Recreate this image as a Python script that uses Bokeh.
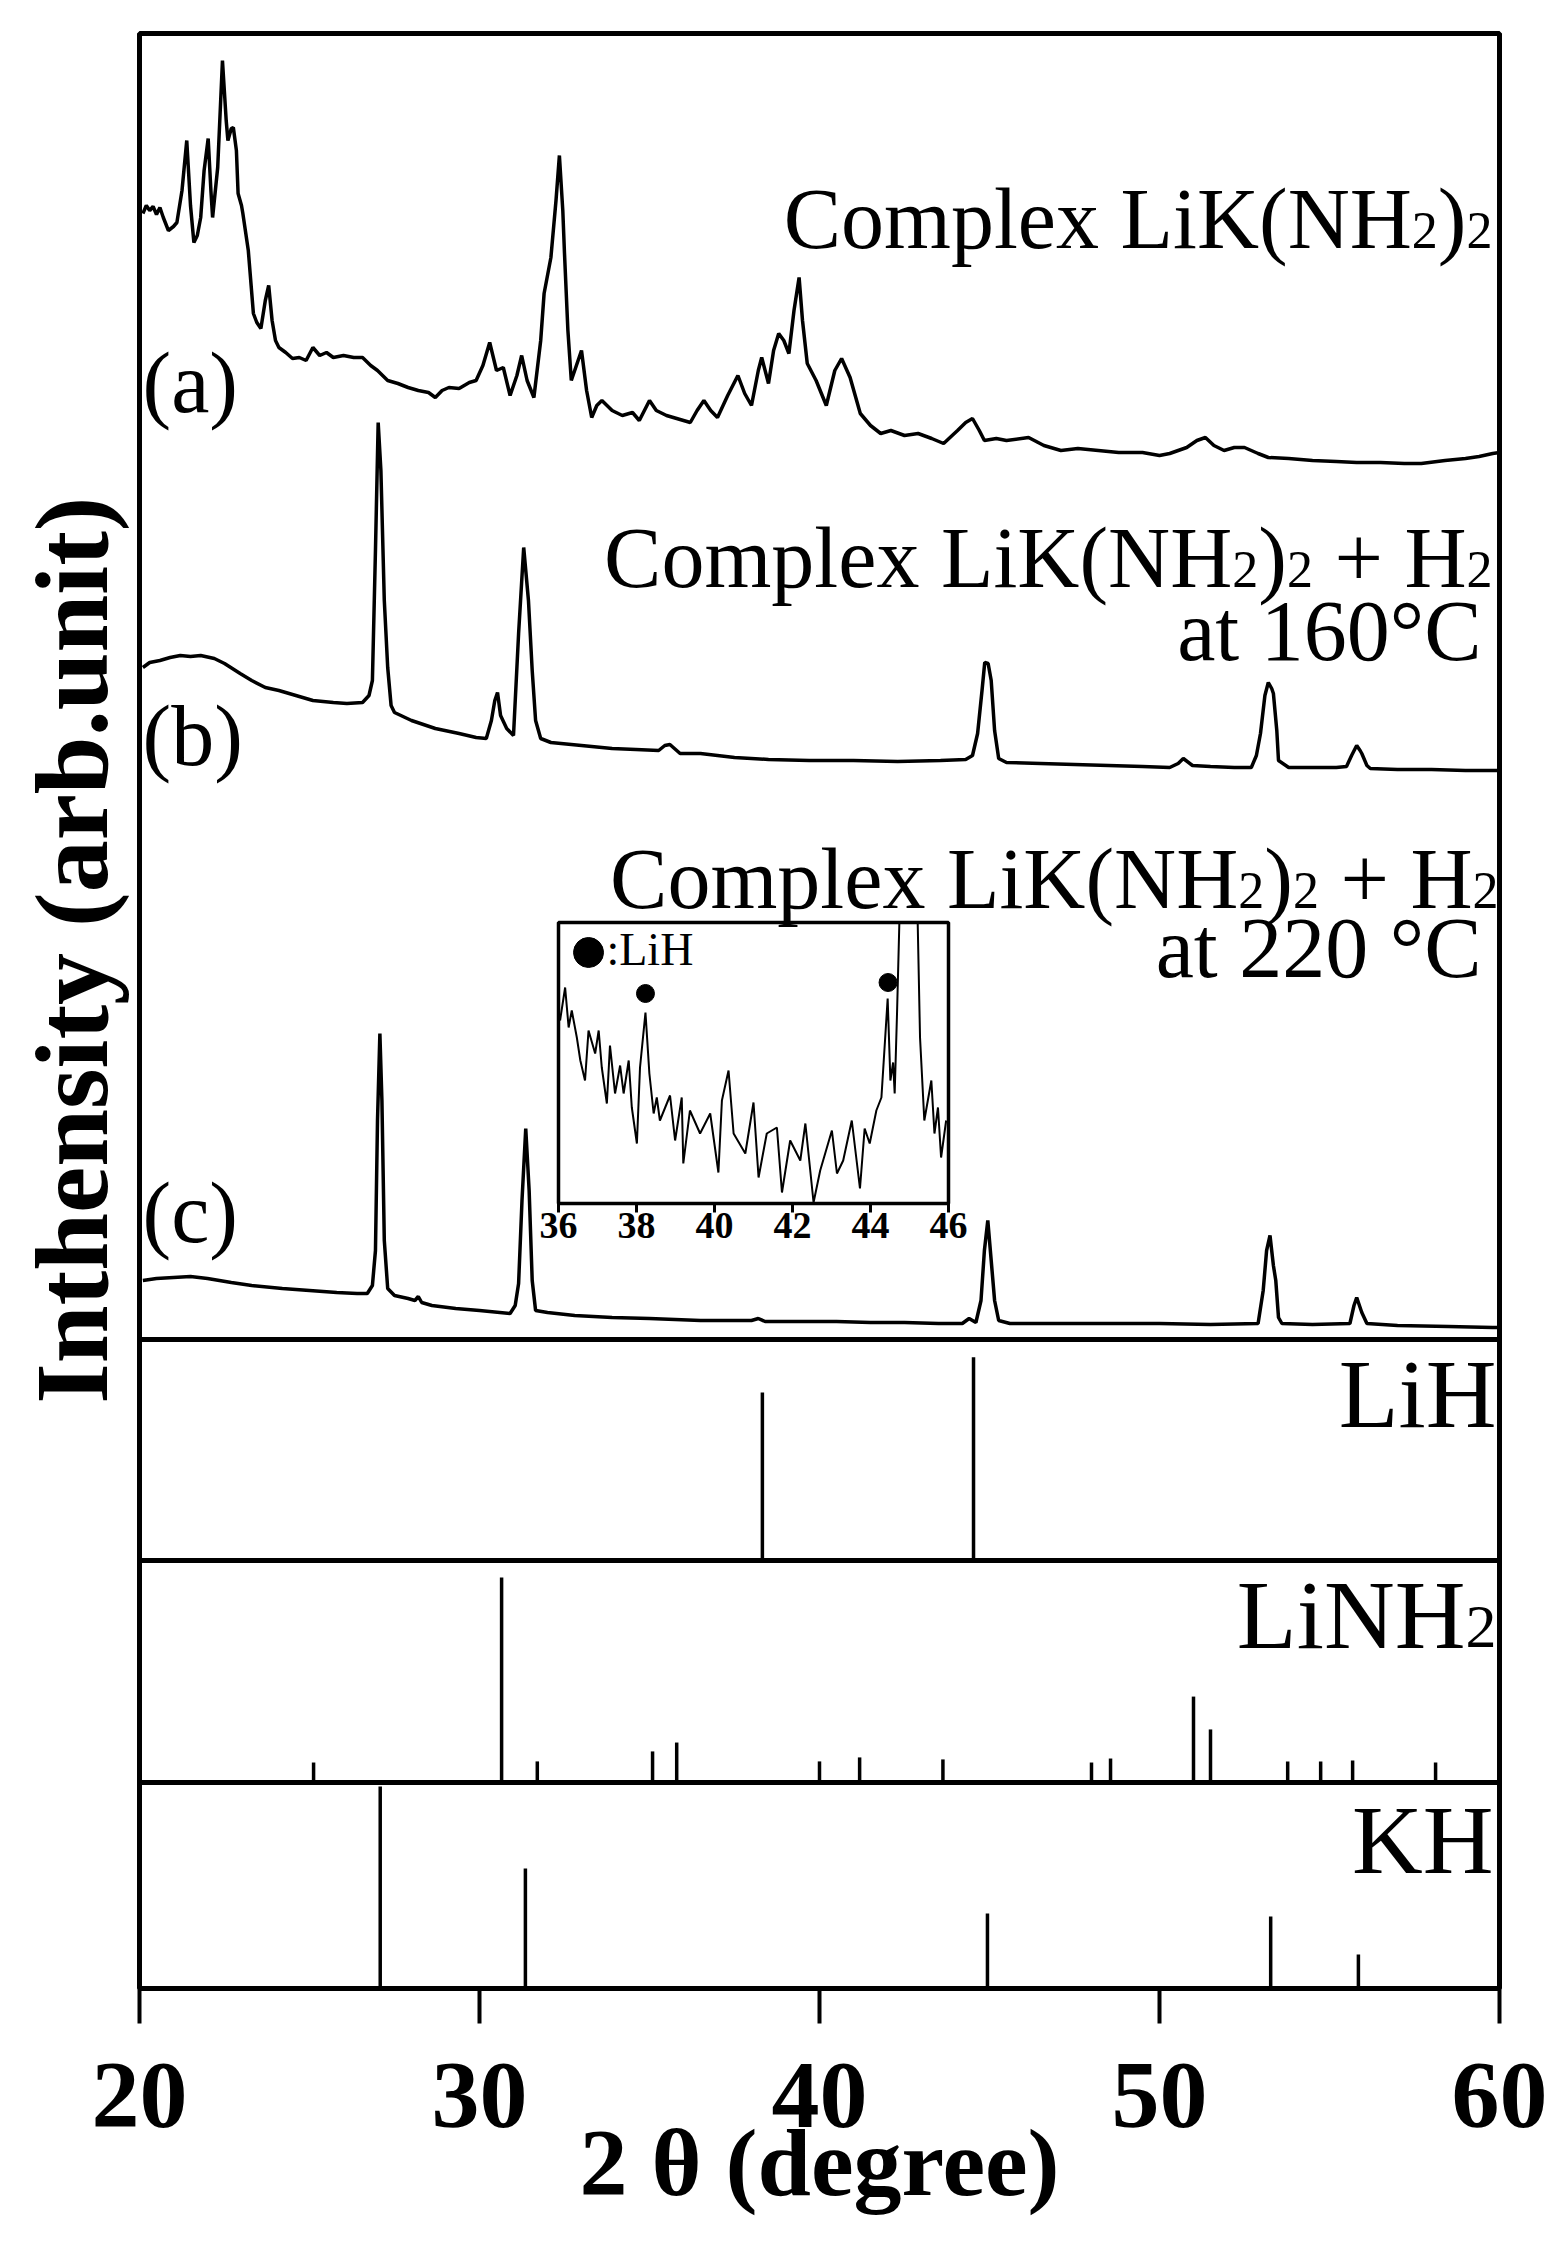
import math
from bokeh.plotting import figure
from bokeh.models import Range1d, FixedTicker, Span, Label, Title
from bokeh.core.properties import value
from bokeh.embed import file_html
from bokeh.resources import INLINE

# ---------------- data (2theta in degree, intensity in arb. units) ----------------
curve_a = [(20.1,1126),(20.2,1134),(20.3,1129),(20.4,1133),(20.5,1125),(20.6,1132),(20.7,1122),(20.85,1109),
           (21.0,1113),(21.1,1117),(21.25,1149),(21.39,1199),(21.5,1134),(21.6,1097),(21.7,1104),(21.8,1122),
           (21.9,1169),(22.02,1201),(22.1,1149),(22.15,1122),(22.3,1172),(22.44,1279),(22.55,1219),(22.6,1199),
           (22.7,1211),(22.76,1212),(22.85,1189),(22.9,1146),(23.0,1134),(23.04,1126),(23.2,1089),(23.35,1026),
           (23.45,1017),(23.57,1011),(23.7,1039),(23.8,1054),(23.9,1019),(24.0,999),(24.1,992),(24.3,987),
           (24.5,981),(24.7,982),(24.9,979),(25.1,992),(25.3,984),(25.5,987),(25.7,982),(26.0,984),(26.3,982),
           (26.56,982),(26.8,974),(27.0,969),(27.3,959),(27.6,956),(27.9,952),(28.2,949),(28.5,947),(28.7,942),
           (28.9,949),(29.1,952),(29.4,951),(29.7,957),(29.9,959),(30.1,974),(30.3,997),(30.5,969),(30.7,972),
           (30.9,944),(31.1,964),(31.24,984),(31.4,959),(31.6,942),(31.8,999),(31.9,1046),(32.1,1082),(32.25,1139),
           (32.35,1184),(32.45,1129),(32.5,1086),(32.6,1009),(32.7,959),(32.85,974),(33.0,989),(33.15,949),
           (33.3,922),(33.45,934),(33.6,939),(33.9,929),(34.2,924),(34.5,927),(34.7,919),(35.0,939),(35.2,929),
           (35.5,924),(35.8,921),(36.2,917),(36.4,929),(36.6,939),(36.8,929),(37.0,922),(37.3,944),(37.6,964),
           (37.8,946),(38.0,934),(38.2,969),(38.3,982),(38.5,956),(38.65,989),(38.8,1006),(38.95,999),(39.1,986),
           (39.25,1029),(39.4,1062),(39.5,1019),(39.64,976),(39.9,959),(40.2,934),(40.45,969),(40.65,981),
           (40.9,962),(41.2,926),(41.5,914),(41.8,906),(42.1,909),(42.5,904),(42.9,906),(43.3,901),(43.65,896),
           (44.06,909),(44.3,917),(44.5,921),(44.7,909),(44.85,899),(45.2,901),(45.5,899),(46.15,902),(46.6,894),
           (47.1,889),(47.6,891),(48.2,889),(48.8,887),(49.5,887),(50.0,884),(50.3,886),(50.8,892),(51.1,899),
           (51.35,902),(51.6,894),(51.9,889),(52.2,892),(52.5,892),(52.9,886),(53.2,882),(53.8,881),(54.5,879),
           (55.2,878),(55.8,877),(56.5,877),(57.2,876),(57.7,876),(58.4,879),(59.0,881),(59.4,883),(59.8,886),
           (60.0,887)]

curve_b = [(20.1,672),(20.3,677),(20.6,679),(20.9,682),(21.2,684),(21.5,683),(21.8,684),(22.2,681),(22.5,676),
           (22.96,666),(23.3,659),(23.7,652),(24.1,649),(24.6,644),(25.1,639),(25.7,637),(26.1,636),(26.56,637),
           (26.75,644),(26.85,659),(26.94,789),(27.02,917),(27.1,869),(27.2,739),(27.3,672),(27.4,634),(27.5,627),
           (28.0,619),(28.7,611),(29.4,606),(29.9,602),(30.2,601),(30.35,619),(30.45,639),(30.53,647),(30.62,624),
           (30.8,611),(31.0,604),(31.15,706),(31.3,792),(31.44,739),(31.55,669),(31.65,619),(31.8,601),(32.1,597),
           (33.0,594),(33.9,591),(34.6,590),(35.27,589),(35.45,594),(35.6,595),(35.9,586),(36.5,586),(37.5,582),
           (38.5,580),(39.7,579),(41.0,579),(42.3,578),(43.56,579),(44.3,580),(44.5,584),(44.65,606),(44.78,649),
           (44.86,677),(44.96,676),(45.05,659),(45.15,609),(45.27,581),(45.5,577),(46.5,576),(47.5,575),(48.5,574),
           (49.5,573),(50.3,572),(50.55,576),(50.7,581),(50.97,574),(51.5,573),(52.2,572),(52.7,572),(52.85,584),
           (52.97,606),(53.1,644),(53.2,657),(53.3,651),(53.35,646),(53.45,609),(53.5,579),(53.8,572),(54.5,572),
           (55.2,572),(55.5,573),(55.65,584),(55.8,594),(55.9,589),(55.95,586),(56.1,574),(56.2,571),(57.0,570),
           (58.0,570),(59.0,569),(59.8,569),(60.0,569)]

curve_c = [(20.1,59),(20.5,61),(21.0,62),(21.5,63),(22.0,61),(22.7,57),(23.3,54),(24.2,51),(25.0,49),(25.8,47),
           (26.4,46),(26.7,46),(26.85,54),(26.94,89),(27.0,219),(27.07,306),(27.13,239),(27.2,99),(27.3,51),
           (27.5,44),(27.9,41),(28.1,39),(28.2,43),(28.3,37),(28.6,34),(29.3,31),(30.0,29),(30.9,26),(31.05,34),
           (31.15,56),(31.25,139),(31.36,211),(31.46,149),(31.55,59),(31.65,29),(32.0,27),(32.8,24),(33.9,22),
           (35.0,21),(36.5,19),(38.0,19),(38.2,21),(38.4,18),(39.5,18),(40.5,18),(41.5,17),(42.5,17),(43.5,16),
           (44.2,16),(44.4,21),(44.6,17),(44.75,39),(44.85,89),(44.95,119),(45.05,79),(45.15,39),(45.27,19),
           (45.6,16),(47.0,16),(48.5,16),(50.0,16),(51.5,15),(52.9,16),(53.05,49),(53.15,89),(53.25,104),
           (53.35,74),(53.42,59),(53.5,22),(53.6,16),(54.5,15),(55.6,16),(55.72,34),(55.8,42),(55.88,34),
           (55.95,27),(56.1,16),(57.0,14),(58.5,13),(59.8,12),(60.0,12)]

inset_c = [(36.04,183),(36.17,216),(36.26,176),(36.34,193),(36.47,166),(36.56,143),(36.68,123),(36.77,173),
           (36.94,150),(37.03,173),(37.11,136),(37.24,100),(37.32,158),(37.45,110),(37.58,138),(37.67,110),
           (37.8,143),(37.88,96),(38.01,60),(38.09,136),(38.23,191),(38.33,130),(38.44,90),(38.52,106),(38.6,83),
           (38.86,108),(38.99,63),(39.16,106),(39.2,40),(39.37,93),(39.63,70),(39.89,90),(40.1,31),(40.19,103),
           (40.36,133),(40.49,70),(40.79,50),(41.0,101),(41.13,26),(41.34,70),(41.6,76),(41.73,11),(41.94,63),
           (42.2,43),(42.33,80),(42.54,1),(42.71,33),(43.01,73),(43.14,30),(43.3,43),(43.52,83),(43.73,15),
           (43.85,75),(43.98,60),(44.15,93),(44.28,106),(44.44,205),(44.51,123),(44.58,141),(44.62,110),
           (44.68,190),(44.74,281),(45.21,281),(45.27,166),(45.38,83),(45.56,123),(45.64,70),(45.73,96),
           (45.81,46),(45.94,83)]

inset_lih_theta = [38.23, 44.45]
inset_lih_int = [210, 221]

lih_theta = [38.32, 44.53]
lih_int = [76, 92]

linh2_theta = [25.12, 30.65, 31.7, 35.09, 35.8, 40.0, 41.18, 43.63, 48.0, 48.56, 51.0, 51.5, 53.77, 54.74, 55.68, 58.12]
linh2_int = [9.0, 92.3, 9.5, 14.0, 18.0, 9.5, 11.3, 10.4, 9.0, 10.8, 38.7, 23.9, 9.5, 9.5, 9.9, 9.0]

kh_theta = [27.08, 31.35, 44.94, 53.27, 55.85]
kh_int = [98.0, 58.3, 36.4, 35.0, 16.5]

x_ticks = [20, 30, 40, 50, 60]
inset_ticks = [36, 38, 40, 42, 44, 46]

# ---------------- layout (page pixels) ----------------
W, H = 1558, 2256
FR_L, FR_R, FR_T, FR_B = 139, 1499, 33, 1988
TOP_B, LIH_B, LINH2_B = 1339, 1560, 1782
SERIF = "Liberation Serif"
KB = 0.3375  # baseline shift of the text box, in em


def px_theta(px):
    return 20 + (px - FR_L) * 40.0 / (FR_R - FR_L)


def panel_range(top_px, bot_px):
    ppu = (bot_px - top_px) / 100.0
    return Range1d(-(FR_B - bot_px) / ppu, 100 + (top_px - FR_T) / ppu)


PPU = {"default": 1.0, "lih": (LIH_B - TOP_B) / 100.0,
       "linh2": (LINH2_B - LIH_B) / 100.0, "kh": (FR_B - LINH2_B) / 100.0}

p = figure(width=W, height=H, output_backend="svg", toolbar_location=None,
           x_range=Range1d(20, 60), y_range=Range1d(-(FR_B - TOP_B), TOP_B - FR_T),
           min_border_left=FR_L, min_border_right=W - FR_R,
           min_border_top=FR_T, min_border_bottom=H - FR_B)
p.extra_y_ranges = {"lih": panel_range(TOP_B, LIH_B),
                    "linh2": panel_range(LIH_B, LINH2_B),
                    "kh": panel_range(LINH2_B, FR_B)}

p.outline_line_color = "black"
p.outline_line_width = 5
p.xgrid.visible = False
p.ygrid.visible = False
p.yaxis.visible = False
p.background_fill_color = "white"
p.border_fill_color = "white"

xa = p.xaxis[0]
xa.ticker = FixedTicker(ticks=x_ticks)
xa.axis_line_width = 5
xa.axis_line_color = "black"
xa.major_tick_out = 35
xa.major_tick_in = 0
xa.major_tick_line_width = 4
xa.major_tick_line_color = "black"
xa.minor_tick_line_color = None
xa.major_label_text_font = SERIF
xa.major_label_text_font_size = "96px"
xa.major_label_text_font_style = "bold"
xa.major_label_text_color = "black"
xa.major_label_standoff = 40
xa.axis_label = "2 θ (degree)"
xa.axis_label_text_font = SERIF
xa.axis_label_text_font_size = "96px"
xa.axis_label_text_font_style = "bold"
xa.axis_label_text_color = "black"
xa.axis_label_standoff = -21

p.add_layout(Title(text="Inthensity (arb.unit)", align="right", offset=463, standoff=22,
                   vertical_align="bottom", text_font=SERIF, text_font_size="104px",
                   text_font_style="bold", text_color="black"), "left")

# curves
for pts in (curve_a, curve_b, curve_c):
    xs, ys = zip(*pts)
    p.line(list(xs), list(ys), line_color="black", line_width=3.5)

# stick patterns
for th, it, rng in ((lih_theta, lih_int, "lih"), (linh2_theta, linh2_int, "linh2"), (kh_theta, kh_int, "kh")):
    p.segment(x0=th, y0=[0] * len(th), x1=th, y1=it, line_color="black", line_width=3.5, y_range_name=rng)

# panel separators
p.add_layout(Span(location=0, dimension="width", line_color="black", line_width=5))
p.add_layout(Span(location=0, dimension="width", line_color="black", line_width=5, y_range_name="lih"))
p.add_layout(Span(location=0, dimension="width", line_color="black", line_width=5, y_range_name="linh2"))


def label(text, x, y, size, align="left", xo=0, bold=False, rng="default"):
    yy = y + KB * size / PPU[rng]
    p.add_layout(Label(x=x, y=yy, text=text, x_offset=xo, text_align=align, text_baseline="alphabetic",
                       text_font=SERIF, text_font_size=f"{size}px", text_color="black",
                       text_font_style="bold" if bold else "normal", y_range_name=rng))


def chain(pieces, y, xo, rng="default"):
    off = xo
    for text, size, w in reversed(pieces):
        if text:
            label(text, 60, y, size, "right", off, rng=rng)
        off -= w * size


F, S = 86, 52
chain([("Complex LiK(NH", F, 0), ("2", S, 0.5), (")", F, 0.333), ("2", S, 0.5)], 1091, -7)
chain([("Complex LiK(NH", F, 0), ("2", S, 0.5), (")", F, 0.333), ("2", S, 0.5), (None, F, 0.25),
       ("+ H", F, 1.536), ("2", S, 0.5)], 752, -7)
label("at 160°C", 60, 679, F, "right", -18)
chain([("Complex LiK(NH", F, 0), ("2", S, 0.5), (")", F, 0.333), ("2", S, 0.5), (None, F, 0.25),
       ("+ H", F, 1.536), ("2", S, 0.5)], 431, -1)
label("at 220 °C", 60, 362, F, "right", -18)

label("(a)", 20, 927, F, "left", 3)
label("(b)", 20, 574, F, "left", 3)
label("(c)", 20, 97, F, "left", 3)

label("LiH", 60, 60.2, 98, "right", -3, rng="lih")
chain([("LiNH", 98, 0), ("2", 62, 0.5)], 60.4, -3, rng="linh2")
label("KH", 60, 55.8, 98, "right", -6, rng="kh")

# inset
sub = p.subplot(x_source=Range1d(36, 46), y_source=Range1d(0, 281),
                x_target=Range1d(px_theta(558), px_theta(948)),
                y_target=Range1d(TOP_B - 1203, TOP_B - 922))
sub.quad(left=[36], right=[46], bottom=[0], top=[281], fill_color="white", line_color="black", line_width=3.5)
ixs, iys = zip(*inset_c)
sub.line(list(ixs), list(iys), line_color="black", line_width=2)
sub.scatter(inset_lih_theta, inset_lih_int, size=18, marker="circle", fill_color="black", line_color="black")
sub.segment(x0=inset_ticks, y0=[0] * len(inset_ticks), x1=inset_ticks, y1=[-9] * len(inset_ticks),
            line_color="black", line_width=3)
sub.text(x=inset_ticks, y=[-35 + KB * 38] * len(inset_ticks), text=[str(t) for t in inset_ticks],
         text_align="center", text_baseline="alphabetic", text_font=value(SERIF),
         text_font_size="38px", text_font_style="bold", text_color="black")
sub.scatter([36.77], [251], size=30, marker="circle", fill_color="black", line_color="black")
sub.text(x=[37.23], y=[238 + KB * 46], text=[":LiH"], text_align="left", text_baseline="alphabetic",
         text_font=value(SERIF), text_font_size="46px", text_color="black")

open("out.html", "w").write(file_html(p, INLINE))
